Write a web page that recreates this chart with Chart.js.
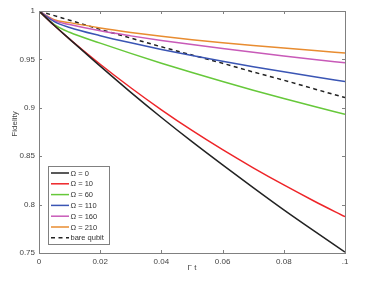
<!DOCTYPE html>
<html><head><meta charset="utf-8">
<script src="https://cdn.jsdelivr.net/npm/chart.js@4"></script>
<style>html,body{margin:0;padding:0;background:#fff}#c{display:block}</style>
</head><body>
<div style="width:374px;height:286px"><canvas id="c" width="374" height="286"></canvas></div>
<script>
const times   = [0, 0.005, 0.01, 0.02, 0.03, 0.04, 0.05, 0.06, 0.07, 0.08, 0.09, 0.1];
const omega0   = [1, 0.985, 0.971, 0.943, 0.916, 0.890, 0.865, 0.841, 0.8175, 0.7945, 0.7725, 0.751];
const omega10  = [1, 0.985, 0.971, 0.945, 0.9207, 0.8979, 0.8766, 0.8567, 0.838, 0.8203, 0.8035, 0.7875];
const omega60  = [1, 0.986, 0.978, 0.9668, 0.9562, 0.9461, 0.9364, 0.9271, 0.9182, 0.9096, 0.9013, 0.8933];
const omega110 = [1, 0.989, 0.983, 0.9745, 0.9671, 0.9603, 0.954, 0.9481, 0.9425, 0.9372, 0.9321, 0.9272];
const omega160 = [1, 0.990, 0.986, 0.9795, 0.9743, 0.9696, 0.9653, 0.9612, 0.9573, 0.9536, 0.95, 0.9465];
const omega210 = [1, 0.991, 0.988, 0.9825, 0.9779, 0.9739, 0.9704, 0.9673, 0.9644, 0.9617, 0.9591, 0.9566];
const bareQubit= [1, 0.9952, 0.9905, 0.981, 0.972, 0.963, 0.9545, 0.946, 0.937, 0.9285, 0.9195, 0.9105];
const labels = ['\u03A9 = 0','\u03A9 = 10','\u03A9 = 60','\u03A9 = 110','\u03A9 = 160','\u03A9 = 210','bare qubit'];
const xTicks = [0, 0.02, 0.04, 0.06, 0.08, 0.1];
const xTickLabels = ['0','0.02','0.04','0.06','0.08','.1'];
const yTicks = [0.75, 0.8, 0.85, 0.9, 0.95, 1];
const yTickLabels = ['0.75','0.8','0.85','0.9','0.95','1'];

const series = [omega0, omega10, omega60, omega110, omega160, omega210, bareQubit];
const colors = ['#222222','#ee2428','#66c83a','#3a55b4','#c85ab8','#e88c30','#222222'];
const FONT = '"Liberation Sans", Arial, sans-serif';

const datasets = series.map((s,i)=>({
  label: labels[i],
  data: times.map((t,j)=>({x:t,y:s[j]})),
  borderColor: colors[i],
  borderWidth: 1.5,
  borderDash: i===6 ? [4,3.5] : [],
  pointRadius: 0,
  fill: false,
  cubicInterpolationMode: 'monotone'
}));

const deco = {
  id:'deco',
  afterDraw(chart){
    const ctx = chart.ctx, a = chart.chartArea;
    const xs = chart.scales.x, ys = chart.scales.y;
    ctx.save();
    ctx.strokeStyle = '#808080'; ctx.lineWidth = 1;
    ctx.strokeRect(Math.round(a.left)+0.5, Math.round(a.top)+0.5, Math.round(a.right-a.left), Math.round(a.bottom-a.top));
    ctx.beginPath();
    xTicks.forEach(v=>{
      const px = Math.round(xs.getPixelForValue(v))+0.5;
      ctx.moveTo(px,a.bottom); ctx.lineTo(px,a.bottom-3);
      ctx.moveTo(px,a.top); ctx.lineTo(px,a.top+3);
    });
    yTicks.forEach(v=>{
      const py = Math.round(ys.getPixelForValue(v))+0.5;
      ctx.moveTo(a.left,py); ctx.lineTo(a.left+3,py);
      ctx.moveTo(a.right,py); ctx.lineTo(a.right-3,py);
    });
    ctx.stroke();
    // axis titles
    ctx.fillStyle = '#444'; ctx.font = '8px '+FONT;
    ctx.textAlign='center'; ctx.textBaseline='middle';
    ctx.fillText('\u0393 t', (a.left+a.right)/2, 268);
    ctx.save(); ctx.translate(15, 124); ctx.rotate(-Math.PI/2);
    ctx.fillText('Fidelity', 0, 0); ctx.restore();
    // legend
    const bx=48, by=166, bw=61, bh=78;
    ctx.fillStyle='#fff'; ctx.fillRect(bx,by,bw,bh);
    ctx.strokeStyle='#808080'; ctx.strokeRect(bx+0.5,by+0.5,bw,bh);
    chart.data.datasets.forEach((d,i)=>{
      const y = 173 + i*10.8;
      ctx.beginPath(); ctx.strokeStyle=d.borderColor; ctx.lineWidth=1.5;
      ctx.setLineDash(d.borderDash||[]);
      ctx.moveTo(51,y); ctx.lineTo(69,y); ctx.stroke();
      ctx.setLineDash([]);
      ctx.fillStyle='#333'; ctx.textAlign='left'; ctx.font='7.5px '+FONT;
      ctx.fillText(d.label, 70.5, y+0.5);
    });
    ctx.restore();
  }
};

new Chart(document.getElementById('c'), {
  type:'line',
  data:{datasets},
  options:{
    responsive:false, animation:false,
    layout:{padding:{left:0, top:11, right:29, bottom:0}},
    plugins:{legend:{display:false}, tooltip:{enabled:false}},
    scales:{
      x:{type:'linear', min:0, max:0.1,
        afterFit(s){s.height=33;},
        afterBuildTicks(s){s.ticks = xTicks.map(v=>({value:v}));},
        grid:{display:false, drawTicks:false},
        border:{display:false},
        ticks:{padding:4, color:'#444', font:{family:FONT,size:8}, maxRotation:0,
          callback:(v)=>{const i=xTicks.indexOf(v); return i>=0?xTickLabels[i]:'';}}
      },
      y:{type:'linear', min:0.75, max:1,
        afterFit(s){s.width=39;},
        afterBuildTicks(s){s.ticks = yTicks.map(v=>({value:v}));},
        grid:{display:false, drawTicks:false},
        border:{display:false},
        ticks:{padding:4, color:'#444', font:{family:FONT,size:8},
          callback:(v)=>{const i=yTicks.indexOf(v); return i>=0?yTickLabels[i]:'';}}
      }
    }
  },
  plugins:[deco]
});
</script>
</body></html>
